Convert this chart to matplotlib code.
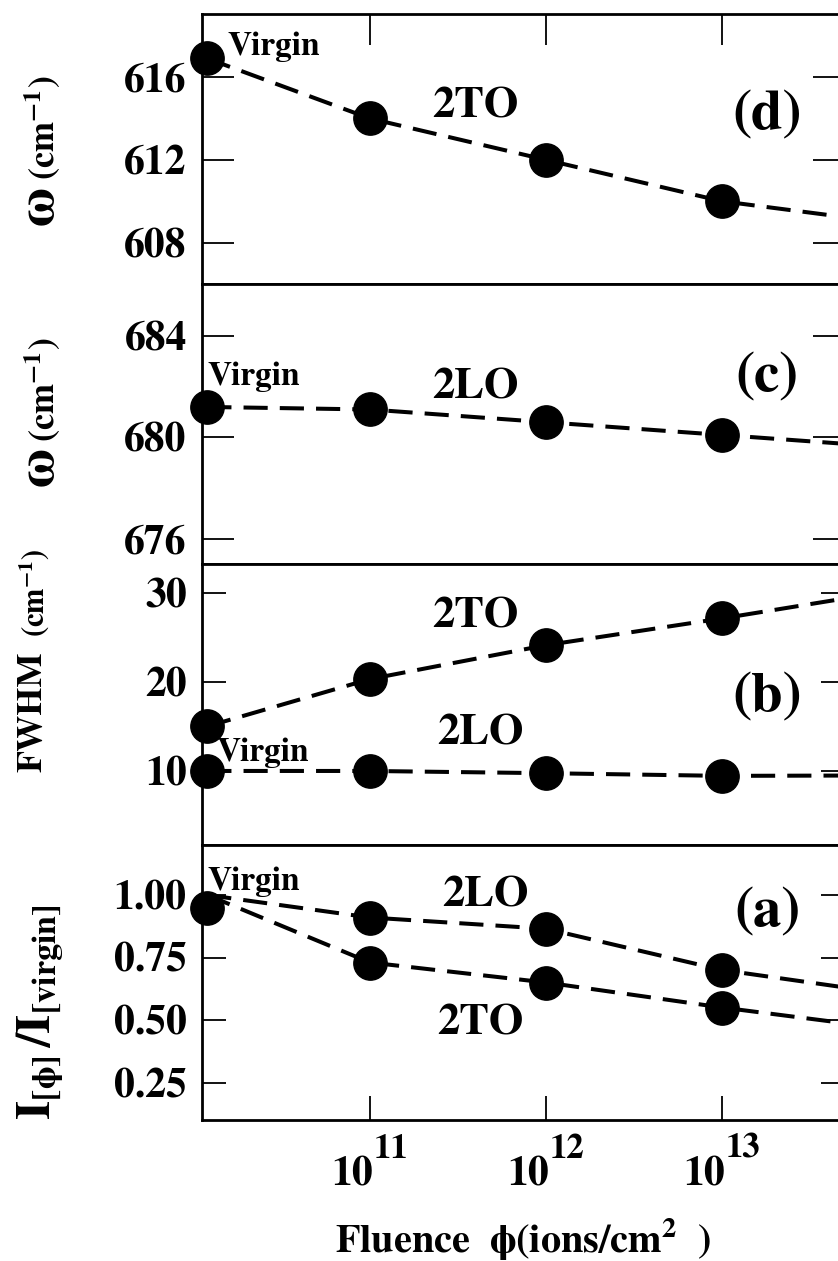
import matplotlib
matplotlib.use("Agg")
import matplotlib.pyplot as plt
from matplotlib.ticker import NullLocator

# ── Veri ──────────────────────────────────────────────────────────────────────
# fluence (ions/cm^2); ilk değer = virgin örnek (sol kenarda gösteriliyor)
fluence = [1.19e10, 1e11, 1e12, 1e13, 1e14]

w_2to = [616.9, 614.0, 612.0, 610.0, 608.9]          # (d)
w_2lo = [681.2, 681.1, 680.6, 680.1, 679.6]          # (c)
fwhm_2to = [15.0, 20.3, 24.1, 27.1, 30.3]            # (b)
fwhm_2lo = [10.0, 10.0, 9.75, 9.45, 9.5]             # (b)
int_2lo = [1.00, 0.91, 0.865, 0.70, 0.60]            # (a)
int_2to = [1.00, 0.73, 0.65, 0.55, 0.46]             # (a)
int_virgin = 0.95                                    # (a) virgin nokta

xticks = [1e11, 1e12, 1e13]
xtick_exp = ["11", "12", "13"]

# ── Stil ──────────────────────────────────────────────────────────────────────
plt.rcParams["font.family"] = "STIXGeneral"
plt.rcParams["font.weight"] = "bold"
plt.rcParams["mathtext.fontset"] = "stix"

W, H = 838, 1261
fig = plt.figure(figsize=(W / 100, H / 100), dpi=100)

L_PX, R_PX = 202, 845
PT = 0.72  # px -> pt


def fx(px):
    return px / W


def fy(py):
    return 1 - py / H


def add_panel(top_px, bot_px, ticklen):
    ax = fig.add_axes([fx(L_PX), fy(bot_px), (R_PX - L_PX) / W, (bot_px - top_px) / H])
    ax.set_xscale("log")
    ax.set_xlim(10 ** 10.0455, 10 ** 13.699)
    ax.set_xticks(xticks)
    ax.xaxis.set_minor_locator(NullLocator())
    ax.tick_params(axis="x", which="both", direction="in", top=False, bottom=False,
                   labelbottom=False, length=ticklen, width=1.3)
    ax.tick_params(axis="y", which="both", direction="in", left=True, right=True,
                   length=ticklen, width=1.3, labelsize=30, pad=11)
    for s in ax.spines.values():
        s.set_linewidth(2.0)
    return ax


def draw(ax, x, y):
    ax.plot(x, y, color="black", lw=2.9, ls=(0, (6, 3)), zorder=2)
    ax.plot(x, y, "o", color="black", ms=24, zorder=3, clip_on=False)


ax_d = add_panel(14, 284, 23)
ax_c = add_panel(284, 564, 23)
ax_b = add_panel(564, 845, 17)
ax_a = add_panel(845, 1120, 17)

# (d) 2TO frekansı
draw(ax_d, fluence, w_2to)
ax_d.set_ylim(606.0, 619.05)
ax_d.set_yticks([608, 612, 616])
ax_d.tick_params(axis="x", top=True, length=22)
ax_d.text(1.55e10, 617.06, "Virgin", fontsize=24, ha="left", va="baseline")
ax_d.text(2.25e11, 614.07, "2TO", fontsize=32, ha="left", va="baseline")

# (c) 2LO frekansı
draw(ax_c, fluence, w_2lo)
ax_c.set_ylim(675.03, 686.03)
ax_c.set_yticks([676, 680, 684])
ax_c.text(1.2e10, 682.06, "Virgin", fontsize=24, ha="left", va="baseline")
ax_c.text(2.25e11, 681.55, "2LO", fontsize=32, ha="left", va="baseline")

# (b) FWHM
draw(ax_b, fluence, fwhm_2to)
draw(ax_b, fluence, fwhm_2lo)
ax_b.set_ylim(1.7, 33.2)
ax_b.set_yticks([10, 20, 30])
ax_b.text(2.25e11, 26.07, "2TO", fontsize=32, ha="left", va="baseline")
ax_b.text(2.4e11, 12.99, "2LO", fontsize=32, ha="left", va="baseline")
ax_b.text(1.35e10, 11.08, "Virgin", fontsize=24, ha="left", va="baseline")

# (a) normalize şiddet
ax_a.plot(fluence, int_2lo, color="black", lw=2.9, ls=(0, (6, 3)), zorder=2)
ax_a.plot(fluence, int_2to, color="black", lw=2.9, ls=(0, (6, 3)), zorder=2)
ax_a.plot(fluence[1:], int_2lo[1:], "o", color="black", ms=24, zorder=3, clip_on=False)
ax_a.plot(fluence[1:], int_2to[1:], "o", color="black", ms=24, zorder=3, clip_on=False)
ax_a.plot([fluence[0]], [int_virgin], "o", color="black", ms=24, zorder=3, clip_on=False)
ax_a.set_ylim(0.10, 1.20)
ax_a.set_yticks([0.25, 0.50, 0.75, 1.00], labels=["0.25", "0.50", "0.75", "1.00"])
ax_a.tick_params(axis="x", bottom=True, length=17)
ax_a.text(1.2e10, 1.02, "Virgin", fontsize=24, ha="left", va="baseline")
ax_a.text(2.57e11, 0.953, "2LO", fontsize=32, ha="left", va="baseline")
ax_a.text(2.4e11, 0.441, "2TO", fontsize=32, ha="left", va="baseline")

# x tick etiketleri: 10^n (üs neredeyse tam boy)
for f, e in zip(xticks, xtick_exp):
    ax_a.annotate("10", xy=(f, 0), xycoords=("data", "axes fraction"),
                  xytext=(3 * PT, -65 * PT), textcoords="offset points",
                  ha="right", va="baseline", fontsize=30)
    ax_a.annotate(e, xy=(f, 0), xycoords=("data", "axes fraction"),
                  xytext=(4 * PT, -38 * PT), textcoords="offset points",
                  ha="left", va="baseline", fontsize=25)

# panel etiketleri
for ax, lab, yf in [(ax_d, "(d)", 0.62), (ax_c, "(c)", 0.664),
                    (ax_b, "(b)", 0.523), (ax_a, "(a)", 0.753)]:
    ax.text(0.879, yf, lab, transform=ax.transAxes, fontsize=41,
            ha="center", va="center")

# y eksen etiketleri
fig.text(fx(40), fy(206), "ω", fontsize=38, rotation=90, ha="center", va="center")
fig.text(fx(42), fy(128), r"(cm$^{\mathbf{-1}}$)", fontsize=26, rotation=90,
         ha="center", va="center")
fig.text(fx(40), fy(467), "ω", fontsize=38, rotation=90, ha="center", va="center")
fig.text(fx(42), fy(390), r"(cm$^{\mathbf{-1}}$)", fontsize=26, rotation=90,
         ha="center", va="center")
fig.text(fx(33), fy(712), "FWHM", fontsize=26, rotation=90, ha="center", va="center")
fig.text(fx(35), fy(593), r"(cm$^{\mathbf{-1}}$)", fontsize=22, rotation=90,
         ha="center", va="center")
fig.text(fx(40), fy(1012), r"$\mathbf{I_{[ϕ]}\,/I_{[virgin]}}$", fontsize=35,
         rotation=90, ha="center", va="center")

# x eksen etiketi
fig.text(fx(335), fy(1253), r"Fluence  ϕ(ions/cm$^{\mathbf{2}}$  )", fontsize=29,
         ha="left", va="baseline")

fig.savefig("out.png", dpi=100)
